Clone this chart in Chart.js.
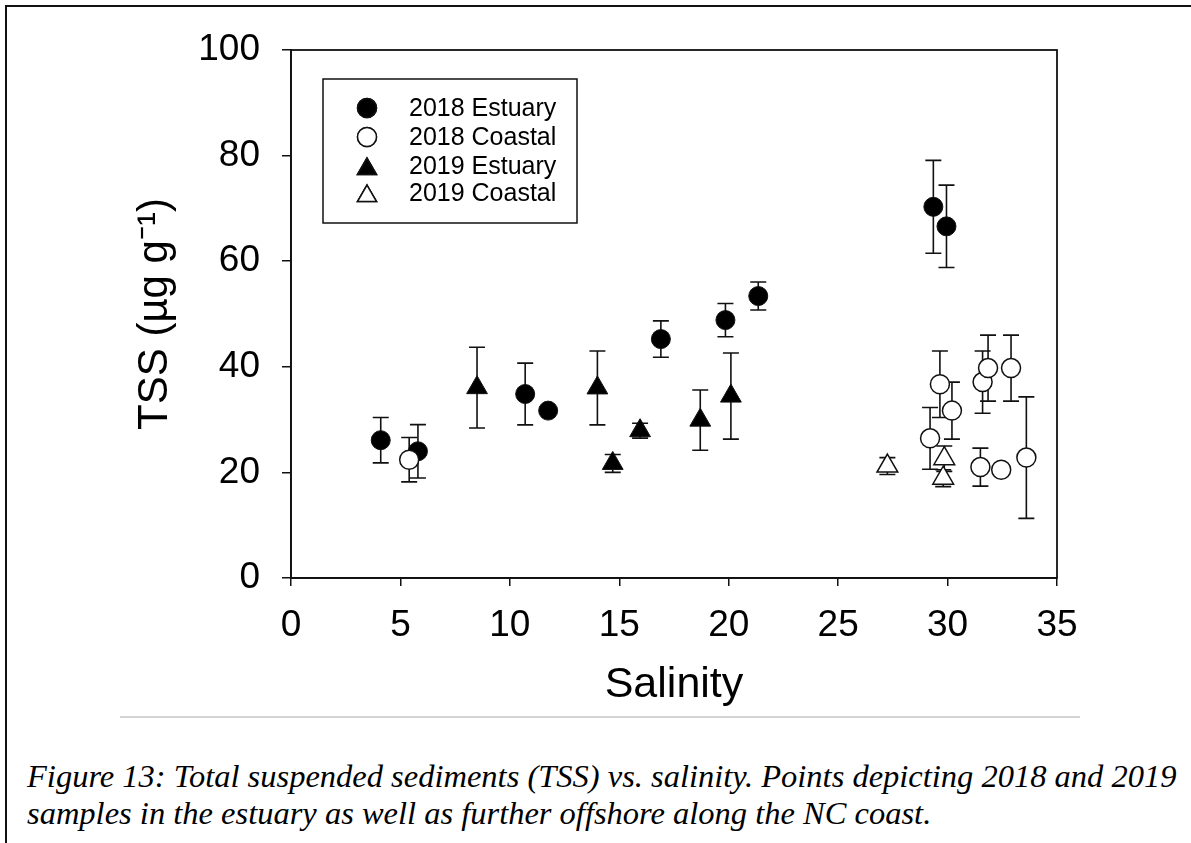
<!DOCTYPE html>
<html>
<head>
<meta charset="utf-8">
<script src="https://cdn.jsdelivr.net/npm/chart.js@4.4.1/dist/chart.umd.min.js"></script>
<style>
    html, body { margin: 0; padding: 0; background: #fff; width: 1191px; height: 843px; overflow: hidden; }
    #frame { position: absolute; left: 5px; top: 5px; width: 1300px; height: 1000px; border: 2px solid #111; box-sizing: border-box; }
    #chartBox { position: absolute; left: 0; top: 0; }
    #rule { position: absolute; left: 120px; top: 716px; width: 960px; height: 0; border-top: 2px solid #d4d4d4; }
    #caption { position: absolute; left: 27px; top: 758px; font-family: "Liberation Serif", "Times New Roman", serif; font-style: italic; font-size: 32.5px; line-height: 37px; color: #000; white-space: nowrap; }
</style>
</head>
<body>
<div id="frame"></div>
<div id="chartBox"><canvas id="tssChart" width="1191" height="720"></canvas></div>
<div id="rule"></div>
<div id="caption">Figure 13: Total suspended sediments (TSS) vs. salinity. Points depicting 2018 and 2019<br>samples in the estuary as well as further offshore along the NC coast.</div>
<script>
// TSS vs Salinity
const est2018Sal = [4.1, 5.8, 10.7, 11.75, 16.9, 19.85, 21.35, 29.35, 29.95];
const est2018Tss = [26.1, 24.0, 34.85, 31.7, 45.25, 48.85, 53.4, 70.3, 66.6];
const est2018Err = [4.3, 5.05, 5.85, 0, 3.45, 3.15, 2.65, 8.8, 7.8];

const coast2018Sal = [5.4, 29.2, 29.65, 30.2, 31.5, 31.6, 31.85, 32.45, 32.9, 33.6];
const coast2018Tss = [22.4, 26.45, 36.7, 31.7, 21.0, 37.1, 39.75, 20.5, 39.75, 22.8];
const coast2018Err = [4.2, 5.85, 6.3, 5.4, 3.6, 5.9, 6.25, 0, 6.25, 11.5];

const est2019Sal = [8.5, 14.0, 14.7, 15.95, 18.7, 20.1];
const est2019Tss = [36.05, 36.0, 21.7, 27.9, 29.9, 34.45];
const est2019Err = [7.65, 7.0, 1.7, 1.4, 5.7, 8.15];

const coast2019Sal = [27.25, 29.85, 29.8];
const coast2019Tss = [21.2, 22.6, 18.9];
const coast2019Err = [1.6, 2.4, 1.6];

const xTicks = [0, 5, 10, 15, 20, 25, 30, 35];
const yTicks = [0, 20, 40, 60, 80, 100];

const seriesLabels = ['2018 Estuary', '2018 Coastal', '2019 Estuary', '2019 Coastal'];

function toPoints(xs, ys, errs) {
    return xs.map(function(x, i) { return { x: x, y: ys[i], err: errs[i] }; });
}

const INK = '#111';
const axisFont = { family: 'Liberation Sans, Arial, sans-serif', size: 37 };

// Fehlerbalken hinter den Symbolen
const errorBars = {
    id: 'errorBars',
    beforeDatasetsDraw(chart) {
        const ctx = chart.ctx;
        const xs = chart.scales.x, ys = chart.scales.y;
        ctx.save();
        ctx.strokeStyle = INK;
        ctx.lineWidth = 1.6;
        chart.data.datasets.forEach(function(ds) {
            ds.data.forEach(function(p) {
                if (!p.err) return;
                const px = xs.getPixelForValue(p.x);
                const top = ys.getPixelForValue(p.y + p.err);
                const bot = ys.getPixelForValue(p.y - p.err);
                ctx.beginPath();
                ctx.moveTo(px, top); ctx.lineTo(px, bot);
                ctx.moveTo(px - 8, top); ctx.lineTo(px + 8, top);
                ctx.moveTo(px - 8, bot); ctx.lineTo(px + 8, bot);
                ctx.stroke();
            });
        });
        ctx.restore();
    }
};

// Rahmen ums Diagramm + Legende mit Kasten
const frameAndLegend = {
    id: 'frameAndLegend',
    afterDraw(chart) {
        const ctx = chart.ctx;
        const a = chart.chartArea;
        ctx.save();
        ctx.strokeStyle = INK;
        ctx.lineWidth = 1.8;
        ctx.strokeRect(a.left, a.top, a.right - a.left, a.bottom - a.top);

        // Legende
        const boxL = a.left + 32, boxT = a.top + 29, boxW = 254, boxH = 144;
        ctx.lineWidth = 1.5;
        ctx.strokeRect(boxL, boxT, boxW, boxH);
        ctx.font = '25px Liberation Sans, Arial, sans-serif';
        ctx.textBaseline = 'middle';
        ctx.textAlign = 'left';
        const rowY = [108, 137, 166, 193];
        chart.data.datasets.forEach(function(ds, i) {
            const cy = rowY[i];
            const cx = boxL + 44;
            Chart.helpers.drawPoint(ctx, {
                pointStyle: ds.pointStyle,
                radius: ds.pointStyle === 'triangle' ? 11 : 9.5,
                borderWidth: 1.5,
                rotation: 0
            }, cx, ds.pointStyle === 'triangle' ? cy + 3 : cy);
            ctx.fillStyle = ds.backgroundColor;
            ctx.strokeStyle = INK;
            ctx.fill();
            ctx.stroke();
            ctx.fillStyle = '#000';
            ctx.fillText(ds.label, boxL + 86, cy + 1);
        });
        ctx.restore();
    }
};

const ctx = document.getElementById('tssChart').getContext('2d');
new Chart(ctx, {
    type: 'scatter',
    data: {
        datasets: [
            {
                label: seriesLabels[0],
                data: toPoints(est2018Sal, est2018Tss, est2018Err),
                pointStyle: 'circle', pointRadius: 9.5, pointHoverRadius: 9.5,
                backgroundColor: '#000', borderColor: INK, borderWidth: 1,
                order: 4
            },
            {
                label: seriesLabels[1],
                data: toPoints(coast2018Sal, coast2018Tss, coast2018Err),
                pointStyle: 'circle', pointRadius: 9.5, pointHoverRadius: 9.5,
                backgroundColor: '#fff', borderColor: INK, borderWidth: 1.5,
                order: 2
            },
            {
                label: seriesLabels[2],
                data: toPoints(est2019Sal, est2019Tss, est2019Err),
                pointStyle: 'triangle', pointRadius: 12, pointHoverRadius: 12,
                backgroundColor: '#000', borderColor: INK, borderWidth: 1,
                order: 3
            },
            {
                label: seriesLabels[3],
                data: toPoints(coast2019Sal, coast2019Tss, coast2019Err),
                pointStyle: 'triangle', pointRadius: 12, pointHoverRadius: 12,
                backgroundColor: '#fff', borderColor: INK, borderWidth: 1.5,
                order: 1
            }
        ]
    },
    options: {
        responsive: false,
        animation: false,
        layout: { padding: { left: 0, right: 134, top: 50, bottom: 0 } },
        plugins: {
            legend: { display: false },
            tooltip: { enabled: false }
        },
        scales: {
            x: {
                type: 'linear',
                min: 0, max: 35,
                afterBuildTicks: function(scale) { scale.ticks = xTicks.map(function(v) { return { value: v }; }); },
                afterFit: function(scale) { scale.height = 142; },
                border: { display: true, color: INK, width: 1.8 },
                grid: { drawOnChartArea: false, drawTicks: true, tickLength: 8, color: INK, lineWidth: 1.5 },
                ticks: { color: '#000', font: axisFont, padding: 18, maxRotation: 0 },
                title: {
                    display: true, text: 'Salinity', color: '#000',
                    font: { family: 'Liberation Sans, Arial, sans-serif', size: 43, lineHeight: 1.2 },
                    padding: { top: 0, bottom: 9 }
                }
            },
            y: {
                type: 'linear',
                min: 0, max: 100,
                afterBuildTicks: function(scale) { scale.ticks = yTicks.map(function(v) { return { value: v }; }); },
                afterFit: function(scale) { scale.width = 291; },
                border: { display: true, color: INK, width: 1.8 },
                grid: { drawOnChartArea: false, drawTicks: true, tickLength: 9, color: INK, lineWidth: 1.5 },
                ticks: { color: '#000', font: axisFont, padding: 22 },
                title: {
                    display: true, text: 'TSS (µg g⁻¹)', color: '#000',
                    font: { family: 'Liberation Sans, Arial, sans-serif', size: 42, lineHeight: 1.2 },
                    padding: { top: 130, bottom: 0 }
                }
            }
        }
    },
    plugins: [errorBars, frameAndLegend]
});
</script>
</body>
</html>
